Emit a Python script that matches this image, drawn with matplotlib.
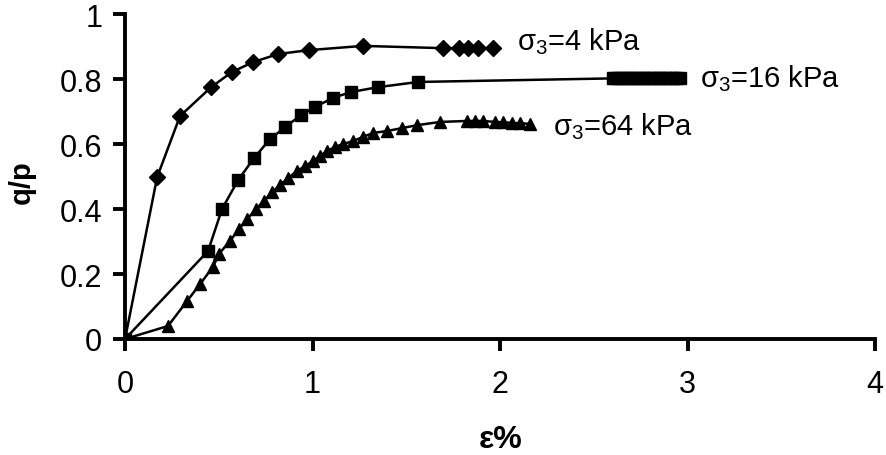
import matplotlib
matplotlib.use('Agg')
import matplotlib.pyplot as plt

plt.rcParams['font.family'] = ['Liberation Sans', 'DejaVu Sans']
plt.rcParams['mathtext.fontset'] = 'custom'
plt.rcParams['mathtext.rm'] = 'Liberation Sans'

# sigma3 = 4 kPa
eps_4 = [0, 0.171, 0.293, 0.459, 0.571, 0.683, 0.816, 0.981, 1.269, 1.696,
         1.781, 1.829, 1.883, 1.963]
qp_4 = [0, 0.498, 0.686, 0.775, 0.822, 0.852, 0.877, 0.889, 0.902, 0.895,
        0.895, 0.895, 0.895, 0.895]

# sigma3 = 16 kPa
eps_16 = [0, 0.443, 0.517, 0.603, 0.688, 0.773, 0.853, 0.939, 1.013, 1.109,
          1.205, 1.349, 1.563,
          2.60, 2.62, 2.64, 2.66, 2.68, 2.70, 2.72, 2.74, 2.76, 2.78,
          2.80, 2.82, 2.84, 2.86, 2.88, 2.90, 2.92, 2.94, 2.96]
qp_16 = [0, 0.271, 0.400, 0.489, 0.557, 0.615, 0.652, 0.689, 0.714, 0.742,
         0.760, 0.775, 0.791,
         0.802, 0.802, 0.802, 0.802, 0.802, 0.802, 0.802, 0.802, 0.802, 0.802,
         0.802, 0.802, 0.802, 0.802, 0.802, 0.802, 0.802, 0.802, 0.802]

# sigma3 = 64 kPa
eps_64 = [0, 0.229, 0.331, 0.400, 0.469, 0.501, 0.560, 0.608, 0.651, 0.699,
          0.741, 0.784, 0.827, 0.869, 0.917, 0.960, 1.003, 1.040, 1.077, 1.120,
          1.163, 1.216, 1.269, 1.323, 1.397, 1.477, 1.557, 1.680, 1.824, 1.867,
          1.909, 1.973, 2.016, 2.064, 2.107, 2.160]
qp_64 = [0, 0.040, 0.117, 0.169, 0.222, 0.262, 0.302, 0.338, 0.369, 0.400,
         0.425, 0.452, 0.474, 0.495, 0.517, 0.532, 0.548, 0.563, 0.578, 0.591,
         0.600, 0.609, 0.622, 0.634, 0.640, 0.649, 0.658, 0.668, 0.671, 0.671,
         0.671, 0.668, 0.667, 0.665, 0.664, 0.662]

labels = [r'$\mathregular{\sigma_3}$=4 kPa', r'$\mathregular{\sigma_3}$=16 kPa',
          r'$\mathregular{\sigma_3}$=64 kPa']
label_pos = [(2.09, 0.892), (3.067, 0.778), (2.283, 0.631)]

fig = plt.figure(figsize=(8.87, 4.56), dpi=100)
ax = fig.add_axes([0.141, 0.2544, 0.8455, 0.7126])

ax.plot(eps_4, qp_4, color='black', lw=1.8, marker='D', ms=8)
ax.plot(eps_16, qp_16, color='black', lw=1.8, marker='s', ms=9)
ax.plot(eps_64, qp_64, color='black', lw=1.8, marker='^', ms=9)

for txt, (x, y) in zip(labels, label_pos):
    ax.text(x, y, txt, fontsize=21, ha='left', va='baseline')

ax.set_xlim(0, 4)
ax.set_ylim(0, 1)
ax.set_xticks([0, 1, 2, 3, 4])
ax.set_yticks([0, 0.2, 0.4, 0.6, 0.8, 1])
ax.set_yticklabels(['0', '0.2', '0.4', '0.6', '0.8', '1'])

for s in ['top', 'right']:
    ax.spines[s].set_visible(False)
for s in ['left', 'bottom']:
    ax.spines[s].set_linewidth(2.8)
ax.tick_params(axis='both', width=2.8, length=8.5, labelsize=22, direction='out')
ax.tick_params(axis='y', pad=8)
ax.tick_params(axis='x', pad=13)

# axis titles
fig.text(501 / 887, 1 - 440 / 456, 'ε%', fontsize=23, fontweight='bold',
         ha='center', va='center')
fig.text(22 / 887, 1 - 182 / 456, 'q/p', fontsize=21, fontweight='bold',
         ha='center', va='center', rotation=90)

fig.savefig('out.png', dpi=100)
